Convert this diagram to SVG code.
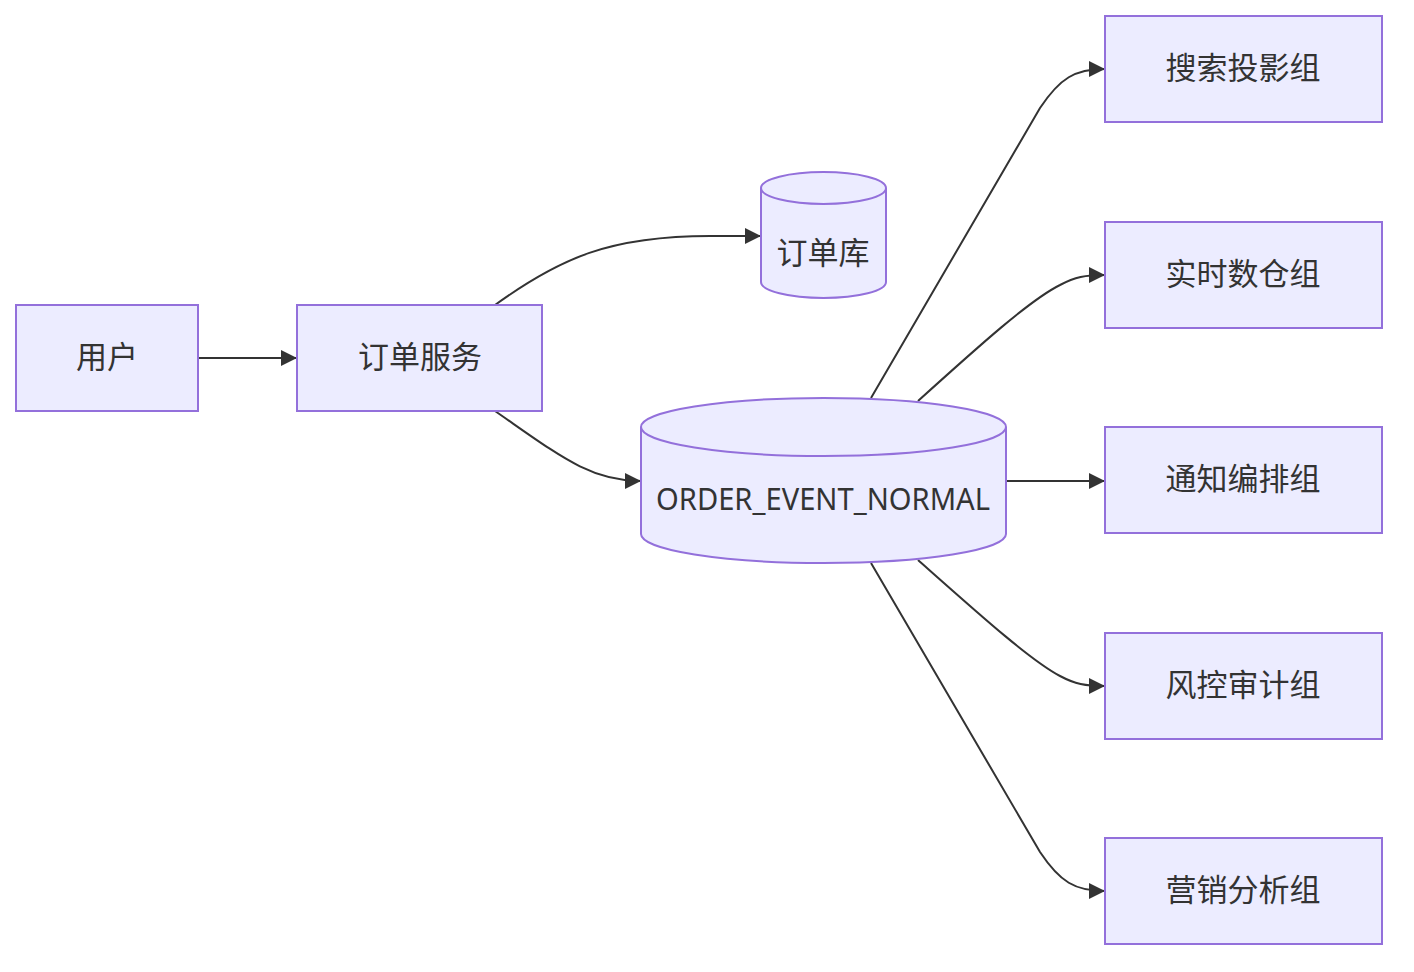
<svg xmlns="http://www.w3.org/2000/svg" width="1414" height="972" viewBox="0 0 1414 972">
<style>
.node{fill:#ECECFF;stroke:#9370DB;stroke-width:2}
.lbl{font-family:"Noto Sans","Noto Sans CJK SC",sans-serif;font-size:31px;fill:#333;text-anchor:middle;dominant-baseline:central}
.edge{fill:none;stroke:#333;stroke-width:2}
</style>
<defs>
<marker id="arr" markerUnits="userSpaceOnUse" markerWidth="17" markerHeight="16" refX="16" refY="8" orient="auto">
<path d="M0,0 L16,8 L0,16 z" fill="#333"/>
</marker>
</defs>
<rect width="1414" height="972" fill="#fff"/>
<g id="edges">
<path class="edge" d="M198,358 L297,358" marker-end="url(#arr)"/>
<path class="edge" d="M495,305 C560,258 610,236 710,236 L761,236" marker-end="url(#arr)"/>
<path class="edge" d="M495,411 C560,456 590,481 641,481" marker-end="url(#arr)"/>
<path class="edge" d="M871,398 L1040,108 C1060,78 1075,69 1105,69" marker-end="url(#arr)"/>
<path class="edge" d="M918,401 C980,345 1030,300 1060,285 C1075,277 1085,275 1105,275" marker-end="url(#arr)"/>
<path class="edge" d="M1006,481 L1105,481" marker-end="url(#arr)"/>
<path class="edge" d="M918,560 C980,615 1030,660 1060,676 C1075,684 1085,686 1105,686" marker-end="url(#arr)"/>
<path class="edge" d="M871,563 L1040,852 C1060,882 1075,891 1105,891" marker-end="url(#arr)"/>
</g>
<g id="user"><rect class="node" x="16" y="305" width="182" height="106"/><text class="lbl" x="107" y="356">用户</text></g>
<g id="orderService"><rect class="node" x="297" y="305" width="245" height="106"/><text class="lbl" x="420" y="356">订单服务</text></g>
<g id="orderDB"><path class="node" d="M761,188 a62.5,16 0 0,0 125,0 a62.5,16 0 0,0 -125,0 l0,94 a62.5,16 0 0,0 125,0 l0,-94"/><text class="lbl" x="823" y="252">订单库</text></g>
<g id="topic"><path class="node" d="M641,427 a182.5,29 0 0,0 365,0 a182.5,29 0 0,0 -365,0 l0,107 a182.5,29 0 0,0 365,0 l0,-107"/><text class="lbl" x="823" y="498" textLength="334" lengthAdjust="spacingAndGlyphs">ORDER_EVENT_NORMAL</text></g>
<g id="search"><rect class="node" x="1105" y="16" width="277" height="106"/><text class="lbl" x="1243" y="67">搜索投影组</text></g>
<g id="realtime"><rect class="node" x="1105" y="222" width="277" height="106"/><text class="lbl" x="1243" y="273">实时数仓组</text></g>
<g id="notify"><rect class="node" x="1105" y="427" width="277" height="106"/><text class="lbl" x="1243" y="478">通知编排组</text></g>
<g id="risk"><rect class="node" x="1105" y="633" width="277" height="106"/><text class="lbl" x="1243" y="684">风控审计组</text></g>
<g id="marketing"><rect class="node" x="1105" y="838" width="277" height="106"/><text class="lbl" x="1243" y="889">营销分析组</text></g>
</svg>
